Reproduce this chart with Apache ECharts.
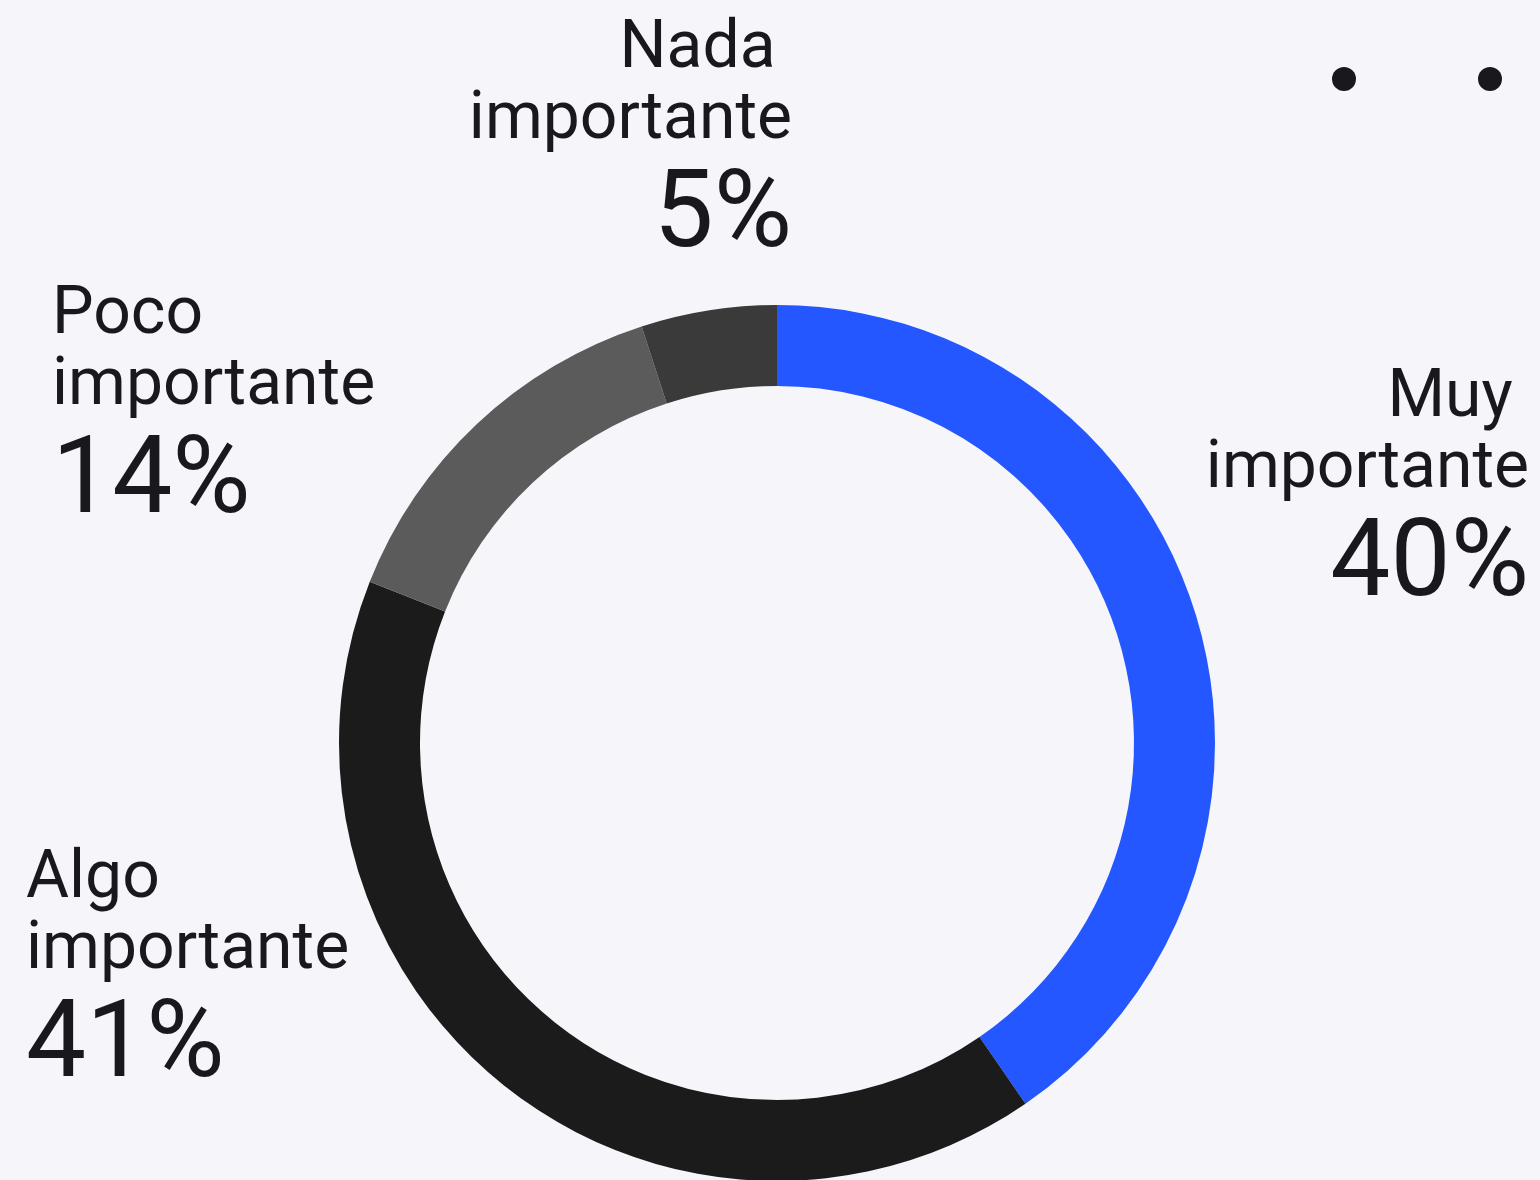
<!DOCTYPE html>
<html>
<head>
<meta charset="utf-8">
<script src="https://cdn.jsdelivr.net/npm/echarts@6/dist/echarts.min.js"></script>
<style>
html,body{margin:0;padding:0;background:#f6f5fa;}
#chart{width:1540px;height:1180px;}
</style>
</head>
<body>
<div id="chart"></div>
<script>
var categories = ['Muy importante', 'Algo importante', 'Poco importante', 'Nada importante'];
var nameLines = [['Muy ', 'importante'], ['Algo', 'importante'], ['Poco', 'importante'], ['Nada ', 'importante']];
var values = [40.4, 40.6, 14, 5];
var colors = ['#2457ff', '#1b1b1b', '#5b5b5b', '#3a3a3a'];

// label anchor placement (layout only)
var labelPos = [
  {x: 1529, y: 364, align: 'right'},
  {x: 26, y: 845, align: 'left'},
  {x: 52, y: 281, align: 'left'},
  {x: 792, y: 15, align: 'right'}
];

var chart = echarts.init(document.getElementById('chart'), null, {renderer: 'canvas'});
var textColor = '#19181d';

var data = categories.map(function (c, i) {
  return {
    name: c,
    value: values[i],
    itemStyle: {color: colors[i]},
    label: {
      formatter: '{n|' + nameLines[i][0] + '}\n{n|' + nameLines[i][1] + '}\n{p|' + Math.round(values[i]) + '%}',
      align: labelPos[i].align
    }
  };
});

chart.setOption({
  backgroundColor: '#f6f5fa',
  animation: false,
  graphic: [
    {type: 'circle', shape: {cx: 1344, cy: 79, r: 12}, style: {fill: textColor}},
    {type: 'circle', shape: {cx: 1490, cy: 79, r: 12}, style: {fill: textColor}}
  ],
  series: [{
    type: 'pie',
    center: [777, 743],
    radius: [357, 438],
    startAngle: 90,
    clockwise: true,
    avoidLabelOverlap: false,
    labelLine: {show: false},
    itemStyle: {borderWidth: 0},
    emphasis: {disabled: true},
    label: {
      show: true,
      position: 'outside',
      color: textColor,
      fontFamily: 'Roboto',
      rich: {
        n: {fontSize: 66, lineHeight: 71, fontFamily: 'Roboto', color: textColor},
        p: {fontSize: 107, lineHeight: 124, fontFamily: 'Roboto', color: textColor}
      }
    },
    labelLayout: function (params) {
      var p = labelPos[params.dataIndex];
      return {x: p.x, y: p.y, align: p.align, verticalAlign: 'top'};
    },
    data: data
  }]
});
</script>
</body>
</html>
